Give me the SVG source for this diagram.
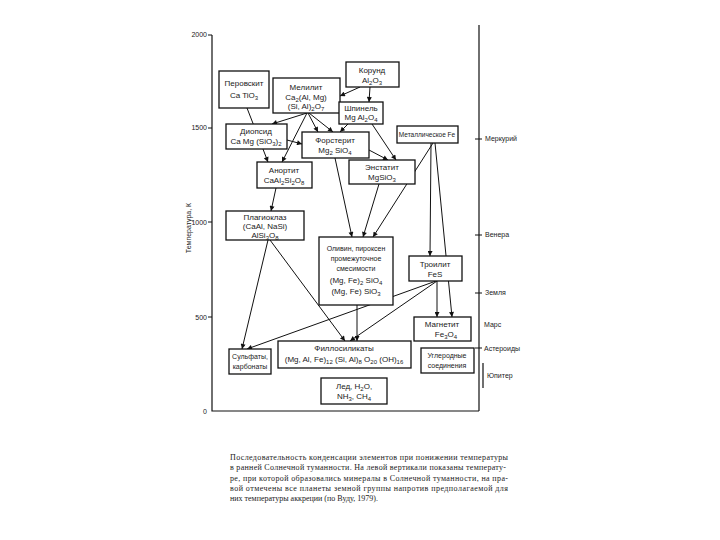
<svg xmlns="http://www.w3.org/2000/svg" width="720" height="540" viewBox="0 0 720 540">
<style>
.ax{stroke:#111;stroke-width:1.2;fill:none}
.c{stroke:#111;stroke-width:1;fill:none;marker-end:url(#ah)}
.b{fill:#fff;stroke:#111;stroke-width:1.3}
text{font-family:"Liberation Sans",Arial,sans-serif;fill:#1a1a1a}
.t{font-size:8px;text-anchor:middle}
.ts{font-size:7px;text-anchor:middle}
.tx{font-size:6.5px;text-anchor:middle}
.lab{font-size:7px}
.pl{font-size:7px}
.s{font-size:6px}
.cap{font-family:"Liberation Serif","Times New Roman",serif;font-size:8px;fill:#1a1a1a}
</style>
<defs>
<marker id="ah" viewBox="0 0 10 10" refX="10" refY="5" markerWidth="6" markerHeight="5" markerUnits="userSpaceOnUse" orient="auto">
<path d="M0,0 L10,5 L0,10 z" fill="#111"/>
</marker>
</defs>
<rect width="720" height="540" fill="#fff"/>
<g id="axes">
<path class="ax" d="M212,35 V411 H479 M479,25 V411"/>
<path class="ax" d="M208,35 H212 M208,128 H212 M208,222 H212 M208,317 H212"/>
<text class="lab" x="207" y="37" text-anchor="end">2000</text>
<text class="lab" x="207" y="130" text-anchor="end">1500</text>
<text class="lab" x="207" y="225" text-anchor="end">1000</text>
<text class="lab" x="207" y="320" text-anchor="end">500</text>
<text class="lab" x="207" y="414" text-anchor="end">0</text>
<text class="lab" transform="translate(191,228) rotate(-90)" text-anchor="middle">Температура, К</text>
<path class="ax" d="M475,139 H482 M475,235 H482 M475,293 H482 M475,348 H482 M483,363 V388"/>
<text class="pl" x="485" y="141">Меркурий</text>
<text class="pl" x="485" y="237">Венера</text>
<text class="pl" x="485" y="295">Земля</text>
<text class="pl" x="484" y="327">Марс</text>
<text class="pl" x="484" y="351">Астероиды</text>
<text class="pl" x="487" y="378">Юпитер</text>
</g>
<g id="connectors">
<path class="c" d="M360,87 L340,96"/>
<path class="c" d="M370,87 L369,102"/>
<path class="c" d="M307,113 L272,124"/>
<path class="c" d="M307,113 L282,162"/>
<path class="c" d="M308,113 L318,132"/>
<path class="c" d="M309,113 L333,132"/>
<path class="c" d="M348,124 L340,132"/>
<path class="c" d="M372,124 L396,160"/>
<path class="c" d="M369,150 L388,160"/>
<path class="c" d="M247,108 L268,162"/>
<path class="c" d="M287,140 L302,144"/>
<path class="c" d="M276,188 L271,211"/>
<path class="c" d="M335,158 L352,237"/>
<path class="c" d="M379,184 L363,237"/>
<path class="c" d="M433,143 L373,237"/>
<path class="c" d="M431,143 L430,256"/>
<path class="c" d="M435,143 L452,317"/>
<path class="c" d="M437,281 L437,317"/>
<path class="c" d="M436,281 L247,349"/>
<path class="c" d="M437,281 L350,341"/>
<path class="c" d="M357,305 L357,341"/>
<path class="c" d="M268,240 L242,349"/>
<path class="c" d="M270,240 L345,341"/>
</g>
<g id="perovskite"><rect class="b" x="219" y="71" width="50" height="37"/>
<text class="t" x="244" y="86">Перовскит</text>
<text class="t" x="244" y="98">Ca TiO<tspan class="s" dy="2">3</tspan></text></g>
<g id="melilite"><rect class="b" x="273" y="78" width="67" height="35"/>
<text class="t" x="306" y="90">Мелилит</text>
<text class="t" x="306" y="100">Ca<tspan class="s" dy="2">2</tspan><tspan dy="-2">(Al, Mg)</tspan></text>
<text class="t" x="306" y="109">(Si, Al)<tspan class="s" dy="2">2</tspan><tspan dy="-2">O</tspan><tspan class="s" dy="2">7</tspan></text></g>
<g id="corundum"><rect class="b" x="346" y="62" width="53" height="25"/>
<text class="t" x="372" y="73">Корунд</text>
<text class="t" x="372" y="83">Al<tspan class="s" dy="2">2</tspan><tspan dy="-2">O</tspan><tspan class="s" dy="2">3</tspan></text></g>
<g id="spinel"><rect class="b" x="339" y="102" width="44" height="22"/>
<text class="t" x="361" y="111">Шпинель</text>
<text class="t" x="361" y="120">Mg Al<tspan class="s" dy="2">2</tspan><tspan dy="-2">O</tspan><tspan class="s" dy="2">4</tspan></text></g>
<g id="diopside"><rect class="b" x="226" y="124" width="61" height="25"/>
<text class="t" x="256" y="134">Диопсид</text>
<text class="t" x="256" y="144">Ca Mg (SiO<tspan class="s" dy="2">3</tspan><tspan dy="-2">)</tspan><tspan class="s" dy="2">2</tspan></text></g>
<g id="forsterite"><rect class="b" x="302" y="132" width="67" height="26"/>
<text class="t" x="335" y="143">Форстерит</text>
<text class="t" x="335" y="153">Mg<tspan class="s" dy="2">2</tspan><tspan dy="-2"> SiO</tspan><tspan class="s" dy="2">4</tspan></text></g>
<g id="anorthite"><rect class="b" x="257" y="162" width="55" height="26"/>
<text class="t" x="284" y="173">Анортит</text>
<text class="t" x="284" y="183">CaAl<tspan class="s" dy="2">2</tspan><tspan dy="-2">Si</tspan><tspan class="s" dy="2">2</tspan><tspan dy="-2">O</tspan><tspan class="s" dy="2">8</tspan></text></g>
<g id="enstatite"><rect class="b" x="349" y="160" width="66" height="24"/>
<text class="t" x="382" y="170">Энстатит</text>
<text class="t" x="382" y="180">MgSiO<tspan class="s" dy="2">3</tspan></text></g>
<g id="metallic-fe"><rect class="b" x="397" y="126" width="61" height="17"/>
<text class="tx" x="427" y="137">Металлическое Fe</text></g>
<g id="plagioclase"><rect class="b" x="226" y="211" width="78" height="29"/>
<text class="t" x="265" y="220">Плагиоклаз</text>
<text class="t" x="265" y="229">(CaAl, NaSi)</text>
<text class="t" x="265" y="238">AlSi<tspan class="s" dy="2">3</tspan><tspan dy="-2">O</tspan><tspan class="s" dy="2">8</tspan></text></g>
<g id="olivine"><rect class="b" x="319" y="237" width="74" height="68"/>
<text class="ts" x="356" y="251">Оливин, пироксен</text>
<text class="ts" x="356" y="261">промежуточное</text>
<text class="ts" x="356" y="271">смесимости</text>
<text class="t" x="356" y="283">(Mg, Fe)<tspan class="s" dy="2">2</tspan><tspan dy="-2"> SiO</tspan><tspan class="s" dy="2">4</tspan></text>
<text class="t" x="356" y="294">(Mg, Fe) SiO<tspan class="s" dy="2">3</tspan></text></g>
<g id="troilite"><rect class="b" x="409" y="256" width="53" height="25"/>
<text class="t" x="435" y="267">Троилит</text>
<text class="t" x="435" y="277">FeS</text></g>
<g id="magnetite"><rect class="b" x="414" y="317" width="57" height="24"/>
<text class="t" x="442" y="327">Магнетит</text>
<text class="t" x="446" y="337">Fe<tspan class="s" dy="2">3</tspan><tspan dy="-2">O</tspan><tspan class="s" dy="2">4</tspan></text></g>
<g id="sulfates"><rect class="b" x="229" y="349" width="42" height="25"/>
<text class="ts" x="250" y="359">Сульфаты,</text>
<text class="ts" x="250" y="369">карбонаты</text></g>
<g id="phyllosilicates"><rect class="b" x="278" y="341" width="133" height="27"/>
<text class="t" x="344" y="351">Филлосиликаты</text>
<text class="t" x="344" y="362">(Mg, Al, Fe)<tspan class="s" dy="2">12</tspan><tspan dy="-2"> (Si, Al)</tspan><tspan class="s" dy="2">8</tspan><tspan dy="-2"> O</tspan><tspan class="s" dy="2">20</tspan><tspan dy="-2"> (OH)</tspan><tspan class="s" dy="2">16</tspan></text></g>
<g id="ice"><rect class="b" x="321" y="378" width="66" height="26"/>
<text class="t" x="354" y="389">Лед, H<tspan class="s" dy="2">2</tspan><tspan dy="-2">O,</tspan></text>
<text class="t" x="354" y="399">NH<tspan class="s" dy="2">3</tspan><tspan dy="-2">, CH</tspan><tspan class="s" dy="2">4</tspan></text></g>
<g id="carbon"><rect class="b" x="421" y="348" width="53" height="25"/>
<text class="ts" x="447" y="358">Углеродные</text>
<text class="ts" x="447" y="368">соединения</text></g>
<g id="caption">
<text class="cap" x="230" y="460" textLength="278" lengthAdjust="spacing">Последовательность конденсации элементов при понижении температуры</text>
<text class="cap" x="230" y="470" textLength="276" lengthAdjust="spacing">в ранней Солнечной туманности. На левой вертикали показаны температу-</text>
<text class="cap" x="230" y="481" textLength="278" lengthAdjust="spacing">ре, при которой образовались минералы в Солнечной туманности, на пра-</text>
<text class="cap" x="230" y="491" textLength="278" lengthAdjust="spacing">вой отмечены все планеты земной группы напротив предполагаемой для</text>
<text class="cap" x="230" y="501">них температуры аккреции (по Вуду, 1979).</text>
</g>
</svg>
